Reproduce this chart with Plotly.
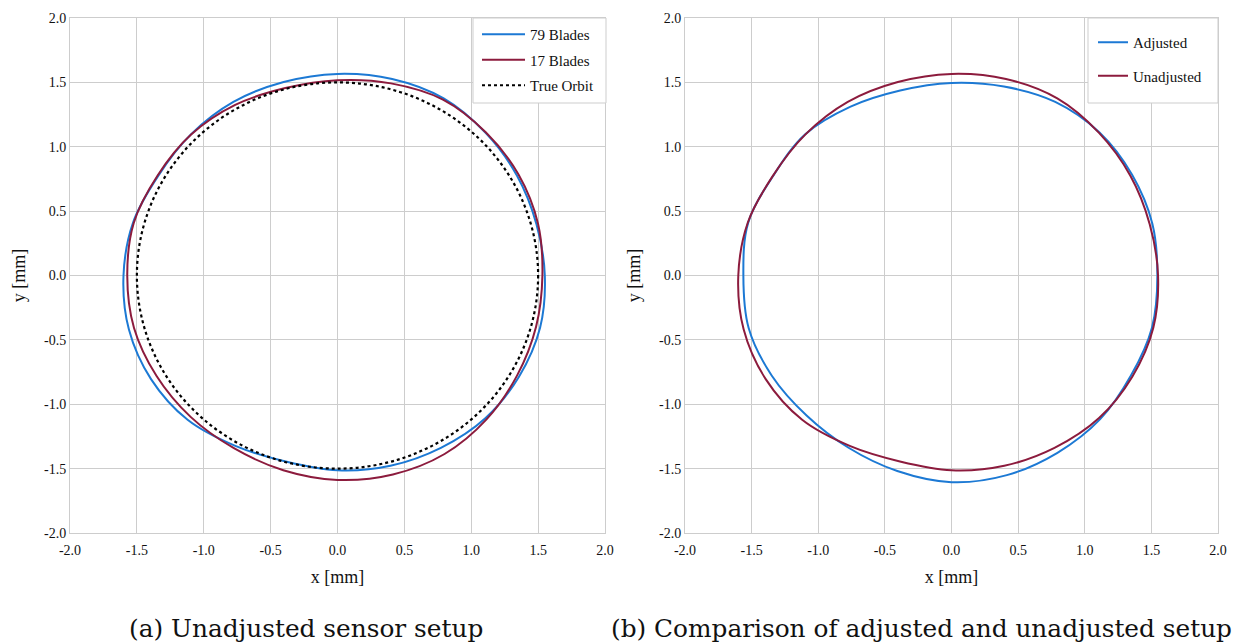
import numpy as np
import plotly.graph_objects as go

# ---- orbit data: radius [mm] at each measurement angle [deg] ---------------
angles_deg = [0, 15, 30, 45, 60, 75, 90, 105, 120, 135, 150, 165,
              180, 195, 210, 225, 240, 255, 270, 285, 300, 315, 330, 345]

# Unadjusted sensor setup, 79 blades (also the "Unadjusted" orbit in panel b)
r_blades79 = [1.550, 1.540, 1.550, 1.566, 1.588, 1.580, 1.566, 1.556, 1.557, 1.550, 1.548, 1.583,
              1.600, 1.615, 1.610, 1.585, 1.528, 1.495, 1.513, 1.530, 1.546, 1.566, 1.568, 1.568]

# Unadjusted sensor setup, 17 blades
r_blades17 = [1.532, 1.552, 1.564, 1.570, 1.577, 1.545, 1.517, 1.507, 1.530, 1.548, 1.553, 1.577,
              1.572, 1.575, 1.562, 1.553, 1.549, 1.566, 1.588, 1.600, 1.601, 1.578, 1.551, 1.537]

# Adjusted sensor setup
r_adjusted = [1.545, 1.560, 1.565, 1.571, 1.557, 1.520, 1.496, 1.488, 1.515, 1.552, 1.546, 1.580,
              1.562, 1.576, 1.557, 1.538, 1.545, 1.572, 1.605, 1.605, 1.590, 1.578, 1.555, 1.558]

# True orbit: circle about the origin
true_orbit_radius = 1.5

# Axis ticks
tick_values = [-2.0, -1.5, -1.0, -0.5, 0.0, 0.5, 1.0, 1.5, 2.0]
tick_text = ["-2.0", "-1.5", "-1.0", "-0.5", "0.0", "0.5", "1.0", "1.5", "2.0"]

# ---- styling ---------------------------------------------------------------
BLUE = "#1C79D4"
RED = "#8C1B3D"
GRID = "#CDCDCD"
SERIF = '"Liberation Serif", "DejaVu Serif", serif'
CAPTION_FONT = "DejaVu Serif, serif"
TEXT = "#111111"
W, H = 1238, 644


def to_xy(radii):
    """Polar orbit samples -> closed x/y path."""
    th = np.deg2rad(np.array(angles_deg + [angles_deg[0]], dtype=float))
    r = np.array(radii + [radii[0]], dtype=float)
    return r * np.cos(th), r * np.sin(th)


def orbit(radii, name, color, xa, ya, legend):
    x, y = to_xy(radii)
    return go.Scatter(
        x=x, y=y, name=name, mode="lines",
        line=dict(color=color, width=2, shape="spline", smoothing=1.0),
        xaxis=xa, yaxis=ya, legend=legend, legendgroup=name,
        hoverinfo="skip",
    )


fig = go.Figure()

# Panel (a)
fig.add_trace(orbit(r_blades79, "79 Blades", BLUE, "x", "y", "legend"))
fig.add_trace(orbit(r_blades17, "17 Blades", RED, "x", "y", "legend"))
fig.add_trace(go.Scatter(
    x=[None], y=[None], name="True Orbit", mode="lines",
    line=dict(color="black", width=2, dash="dot"),
    xaxis="x", yaxis="y", legend="legend", legendgroup="True Orbit",
))
fig.add_shape(
    type="circle", xref="x", yref="y",
    x0=-true_orbit_radius, x1=true_orbit_radius,
    y0=-true_orbit_radius, y1=true_orbit_radius,
    line=dict(color="black", width=2.2, dash="dot"), layer="above",
)

# Panel (b)
fig.add_trace(orbit(r_adjusted, "Adjusted", BLUE, "x2", "y2", "legend2"))
fig.add_trace(orbit(r_blades79, "Unadjusted", RED, "x2", "y2", "legend2"))

# Legend frames (pixel boxes in the upper-right corner of each panel)
for x0, x1 in [(473, 606), (1088, 1218)]:
    fig.add_shape(
        type="rect", xref="paper", yref="paper",
        x0=x0 / W, x1=x1 / W, y0=1 - 103 / H, y1=1 - 18 / H,
        fillcolor="white", line=dict(color=GRID, width=1), layer="above",
    )

y_dom = [1 - 533 / H, 1 - 18 / H]

axis_common = dict(
    range=[-2, 2], tickmode="array", tickvals=tick_values, ticktext=tick_text,
    showgrid=True, gridcolor=GRID, gridwidth=1, zeroline=False,
    showline=True, linecolor=GRID, linewidth=1, mirror=True,
    ticks="", tickfont=dict(family=SERIF, size=14, color=TEXT),
    fixedrange=True, automargin=False,
)
title_font = dict(family=SERIF, size=18, color=TEXT)
legend_common = dict(
    xanchor="left", yanchor="top",
    bgcolor="rgba(0,0,0,0)", borderwidth=0,
    font=dict(family=SERIF, size=15, color=TEXT),
)

fig.update_layout(
    width=W, height=H,
    margin=dict(l=0, r=0, t=0, b=0, autoexpand=False),
    paper_bgcolor="white", plot_bgcolor="white",
    showlegend=True,
    xaxis=dict(axis_common, domain=[70 / W, 605 / W], anchor="y", ticklabelstandoff=4,
               title=dict(text="x [mm]", font=title_font, standoff=13)),
    yaxis=dict(axis_common, domain=y_dom, anchor="x",
               title=dict(text="y [mm]", font=title_font, standoff=13)),
    xaxis2=dict(axis_common, domain=[685 / W, 1218 / W], anchor="y2", ticklabelstandoff=4,
                title=dict(text="x [mm]", font=title_font, standoff=13)),
    yaxis2=dict(axis_common, domain=y_dom, anchor="x2",
                title=dict(text="y [mm]", font=title_font, standoff=13)),
    legend=dict(legend_common, x=477 / W, y=1 - 18 / H, itemwidth=43, tracegroupgap=3),
    legend2=dict(legend_common, x=1093 / W, y=1 - 26 / H, itemwidth=30, tracegroupgap=11),
)

# Sub-figure captions
for text, cx in [("(a) Unadjusted sensor setup", 306),
                 ("(b) Comparison of adjusted and unadjusted setup", 921)]:
    fig.add_annotation(
        text=text, xref="paper", yref="paper", x=cx / W, y=1 - 628 / H,
        xanchor="center", yanchor="middle", showarrow=False,
        font=dict(family=CAPTION_FONT, size=24.8, color=TEXT),
    )

fig.write_html("out.html")
